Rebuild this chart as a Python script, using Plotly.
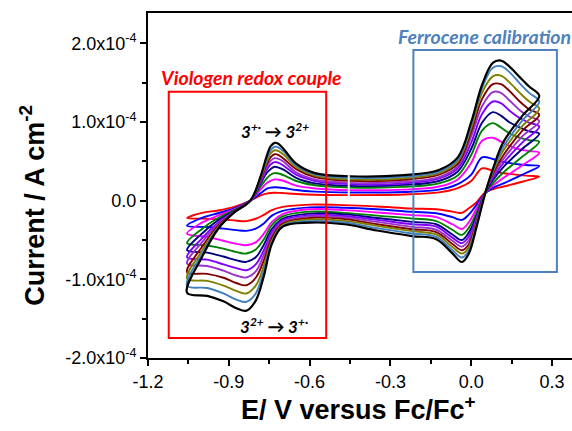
import plotly.graph_objects as go

# Potential grid (V vs Fc/Fc+) for the forward (anodic) and reverse (cathodic) sweeps
X_UP = [-1.055, -1.0, -0.94, -0.88, -0.82, -0.78, -0.76, -0.745, -0.73, -0.715, -0.695,
        -0.65, -0.58, -0.45, -0.25, -0.12, -0.05, 0.0, 0.04, 0.08, 0.11, 0.14, 0.18,
        0.215, 0.2525]
X_DN = [0.19, 0.12, 0.08, 0.05, 0.02, -0.01, -0.035, -0.07, -0.13, -0.22, -0.35, -0.47,
        -0.60, -0.70, -0.74, -0.77, -0.80, -0.835, -0.87, -0.92, -0.98, -1.055]

# Current density, in units of 1e-4 A cm^-2
UP_RED = [-0.22, -0.155, -0.125, -0.08, 0.0, 0.07, 0.09, 0.098, 0.10, 0.099, 0.095,
          0.085, 0.075, 0.07, 0.078, 0.105, 0.16, 0.25, 0.41, 0.38, 0.355, 0.34, 0.325,
          0.315, 0.305]
DN_RED = [0.24, 0.18, 0.145, 0.10, -0.02, -0.10, -0.155, -0.14, -0.11, -0.10, -0.075,
          -0.057, -0.05, -0.08, -0.12, -0.18, -0.23, -0.26, -0.255, -0.24, -0.23, -0.22]
UP_BLUE = [-0.32, -0.22, -0.16, -0.10, 0.0, 0.10, 0.15, 0.165, 0.17, 0.168, 0.16,
           0.135, 0.115, 0.104, 0.11, 0.14, 0.21, 0.33, 0.55, 0.53, 0.50, 0.48, 0.46,
           0.45, 0.44]
DN_BLUE = [0.33, 0.22, 0.16, 0.09, -0.05, -0.18, -0.245, -0.21, -0.16, -0.142, -0.11,
           -0.09, -0.085, -0.13, -0.19, -0.29, -0.355, -0.384, -0.375, -0.355, -0.335, -0.32]
UP_MAGENTA = [-0.42, -0.28, -0.19, -0.11, 0.0, 0.15, 0.22, 0.25, 0.27, 0.265, 0.25,
              0.19, 0.155, 0.134, 0.14, 0.18, 0.27, 0.48, 0.76, 0.80, 0.75, 0.70, 0.65,
              0.63, 0.61]
DN_MAGENTA = [0.45, 0.29, 0.19, 0.09, -0.10, -0.28, -0.36, -0.30, -0.21, -0.184, -0.15,
              -0.12, -0.11, -0.17, -0.27, -0.42, -0.53, -0.566, -0.55, -0.51, -0.46, -0.42]
UP_GREEN = [-0.54, -0.36, -0.22, -0.12, 0.0, 0.19, 0.28, 0.33, 0.35, 0.345, 0.32,
            0.25, 0.195, 0.168, 0.175, 0.22, 0.32, 0.58, 0.89, 0.985, 0.93, 0.86, 0.80,
            0.77, 0.75]
DN_GREEN = [0.56, 0.36, 0.22, 0.09, -0.15, -0.35, -0.435, -0.37, -0.26, -0.227, -0.19,
            -0.155, -0.14, -0.20, -0.31, -0.49, -0.62, -0.672, -0.655, -0.61, -0.57, -0.54]
UP_NAVY = [-0.63, -0.42, -0.25, -0.13, 0.0, 0.23, 0.35, 0.40, 0.43, 0.42, 0.39,
           0.29, 0.22, 0.188, 0.20, 0.25, 0.37, 0.66, 0.99, 1.125, 1.08, 1.00, 0.93,
           0.88, 0.85]
DN_NAVY = [0.66, 0.43, 0.26, 0.09, -0.19, -0.41, -0.50, -0.43, -0.30, -0.27, -0.22,
           -0.175, -0.165, -0.23, -0.36, -0.56, -0.72, -0.778, -0.76, -0.71, -0.66, -0.63]
UP_VIOLET = [-0.72, -0.48, -0.28, -0.14, 0.0, 0.25, 0.39, 0.46, 0.49, 0.48, 0.44,
             0.33, 0.25, 0.21, 0.22, 0.28, 0.41, 0.74, 1.10, 1.26, 1.24, 1.15, 1.05,
             0.99, 0.94]
DN_VIOLET = [0.74, 0.48, 0.29, 0.09, -0.22, -0.46, -0.54, -0.47, -0.33, -0.30, -0.245,
             -0.195, -0.185, -0.25, -0.40, -0.63, -0.81, -0.884, -0.86, -0.81, -0.75, -0.72]
UP_PURPLE = [-0.80, -0.53, -0.30, -0.14, 0.0, 0.27, 0.43, 0.505, 0.54, 0.53, 0.49,
             0.36, 0.27, 0.226, 0.24, 0.30, 0.44, 0.82, 1.20, 1.38, 1.37, 1.28, 1.15,
             1.07, 1.01]
DN_PURPLE = [0.82, 0.53, 0.32, 0.09, -0.25, -0.51, -0.585, -0.51, -0.37, -0.333, -0.27,
             -0.215, -0.20, -0.27, -0.43, -0.69, -0.90, -0.977, -0.955, -0.89, -0.83, -0.80]
UP_MAROON = [-0.91, -0.59, -0.32, -0.145, 0.0, 0.29, 0.46, 0.55, 0.59, 0.58, 0.53,
             0.40, 0.30, 0.252, 0.265, 0.33, 0.47, 0.88, 1.29, 1.48, 1.48, 1.40, 1.26,
             1.16, 1.09]
DN_MAROON = [0.89, 0.58, 0.34, 0.09, -0.27, -0.56, -0.63, -0.55, -0.40, -0.363, -0.30,
             -0.235, -0.22, -0.29, -0.47, -0.76, -0.98, -1.075, -1.05, -0.98, -0.93, -0.91]
UP_OLIVE = [-0.99, -0.64, -0.34, -0.15, 0.0, 0.31, 0.49, 0.60, 0.64, 0.63, 0.58,
            0.43, 0.32, 0.27, 0.285, 0.35, 0.50, 0.93, 1.37, 1.58, 1.59, 1.51, 1.37,
            1.26, 1.17]
DN_OLIVE = [0.95, 0.64, 0.36, 0.08, -0.29, -0.60, -0.672, -0.59, -0.43, -0.388, -0.32,
            -0.257, -0.24, -0.31, -0.51, -0.83, -1.08, -1.18, -1.15, -1.08, -1.02, -0.99]
UP_STEEL = [-1.08, -0.68, -0.35, -0.15, 0.0, 0.32, 0.52, 0.64, 0.685, 0.675, 0.62,
            0.45, 0.335, 0.29, 0.305, 0.37, 0.52, 0.97, 1.43, 1.69, 1.71, 1.64, 1.49,
            1.37, 1.26]
DN_STEEL = [1.02, 0.69, 0.38, 0.075, -0.31, -0.64, -0.723, -0.63, -0.46, -0.418, -0.35,
            -0.278, -0.26, -0.32, -0.53, -0.89, -1.18, -1.287, -1.26, -1.18, -1.11, -1.08]
UP_BLACK = [-1.17, -0.72, -0.36, -0.15, 0.0, 0.33, 0.56, 0.69, 0.735, 0.72, 0.65,
            0.47, 0.35, 0.31, 0.325, 0.39, 0.55, 1.00, 1.47, 1.75, 1.78, 1.71, 1.57,
            1.45, 1.33]
DN_BLACK = [1.08, 0.75, 0.40, 0.07, -0.33, -0.68, -0.78, -0.67, -0.49, -0.45, -0.38,
            -0.30, -0.28, -0.33, -0.55, -0.96, -1.27, -1.40, -1.37, -1.28, -1.21, -1.17]

SERIES = [
    (UP_RED, DN_RED, "#FF0000"),
    (UP_BLUE, DN_BLUE, "#0000FF"),
    (UP_MAGENTA, DN_MAGENTA, "#FF00FF"),
    (UP_GREEN, DN_GREEN, "#008000"),
    (UP_NAVY, DN_NAVY, "#000080"),
    (UP_VIOLET, DN_VIOLET, "#8000FF"),
    (UP_PURPLE, DN_PURPLE, "#9933CC"),
    (UP_MAROON, DN_MAROON, "#800000"),
    (UP_OLIVE, DN_OLIVE, "#808000"),
    (UP_STEEL, DN_STEEL, "#3F7FBF"),
    (UP_BLACK, DN_BLACK, "#000000"),
]

X_TICKS = [-1.2, -0.9, -0.6, -0.3, 0.0, 0.3]
X_TICKTEXT = ["-1.2", "-0.9", "-0.6", "-0.3", "0.0", "0.3"]
X_MINOR = [-1.05, -0.75, -0.45, -0.15, 0.15]
Y_TICKS = [-2.0, -1.0, 0.0, 1.0, 2.0]
Y_TICKTEXT = ["-2.0x10<sup>-4</sup>", "-1.0x10<sup>-4</sup>", "0.0",
              "1.0x10<sup>-4</sup>", "2.0x10<sup>-4</sup>"]
Y_MINOR = [-1.5, -0.5, 0.5, 1.5]

fig = go.Figure()
for up, dn, col in SERIES:
    fig.add_trace(go.Scatter(
        x=X_UP + X_DN, y=up + dn, mode="lines",
        line=dict(color=col, width=1.9 if col != "#000000" else 2.2, shape="spline", smoothing=1.0),
        showlegend=False, hoverinfo="skip"))

TICKFONT = dict(family="Liberation Sans, Arial, sans-serif", size=18, color="black")
fig.update_xaxes(range=[-1.2, 0.374], showline=True, linecolor="black", linewidth=2,
                 mirror=True, ticks="outside", ticklen=6, tickwidth=2, tickcolor="black",
                 tickmode="array", tickvals=X_TICKS, ticktext=X_TICKTEXT, tickfont=TICKFONT,
                 minor=dict(tickmode="array", tickvals=X_MINOR, ticks="outside", ticklen=4,
                            tickwidth=2, tickcolor="black"),
                 showgrid=False, zeroline=False)
fig.update_yaxes(range=[-2.0, 2.385], showline=True, linecolor="black", linewidth=2,
                 mirror=False, ticks="outside", ticklen=6, tickwidth=2, tickcolor="black",
                 tickmode="array", tickvals=Y_TICKS, ticktext=Y_TICKTEXT, tickfont=TICKFONT,
                 minor=dict(tickmode="array", tickvals=Y_MINOR, ticks="outside", ticklen=4,
                            tickwidth=2, tickcolor="black"),
                 showgrid=False, zeroline=False)

# Highlight boxes and the white scan-start marker
fig.add_shape(type="rect", x0=-1.123, x1=-0.5385, y0=-1.746, y1=1.384,
              line=dict(color="#FF0000", width=2))
fig.add_shape(type="rect", x0=-0.2148, x1=0.318, y0=-0.906, y1=1.915,
              line=dict(color="#4F81BD", width=2))
fig.add_shape(type="line", x0=-0.4547, x1=-0.4547, y0=0.048, y1=0.324,
              line=dict(color="white", width=2))

LBL = "Lato, Open Sans, sans-serif"
fig.add_annotation(x=-0.817, y=1.571, text="Viologen redox couple", showarrow=False,
                   font=dict(family=LBL, size=19.5, color="#FF0000", weight="bold", style="italic"))
fig.add_annotation(x=-0.280, y=2.084, xanchor="left", text="Ferrocene calibration", showarrow=False,
                   font=dict(family=LBL, size=19.5, color="#4F81BD", weight="bold", style="italic"))
fig.add_annotation(x=-0.730, y=0.897, text="3<sup>+·</sup> → 3<sup>2+</sup>", showarrow=False,
                   font=dict(family=LBL, size=17, color="black", weight="bold", style="italic"))
fig.add_annotation(x=-0.734, y=-1.584, text="3<sup>2+</sup> → 3<sup>+·</sup>", showarrow=False,
                   font=dict(family=LBL, size=17, color="black", weight="bold", style="italic"))

TITLEFONT = dict(family="Liberation Sans, Arial, sans-serif", size=27, color="black", weight="bold")
fig.add_annotation(xref="paper", yref="paper", x=0.497, y=-0.146, xanchor="center", yanchor="middle",
                   text="E/ V versus Fc/Fc<sup>+</sup>", showarrow=False, font=TITLEFONT)
fig.add_annotation(xref="paper", yref="paper", x=-0.272, y=0.443, xanchor="center", yanchor="middle",
                   text="Current / A cm<sup>-2</sup>", textangle=-90, showarrow=False, font=TITLEFONT)

fig.update_layout(width=572, height=431, margin=dict(l=148, r=0, t=13, b=73),
                  paper_bgcolor="white", plot_bgcolor="white")

fig.write_html("out.html")
